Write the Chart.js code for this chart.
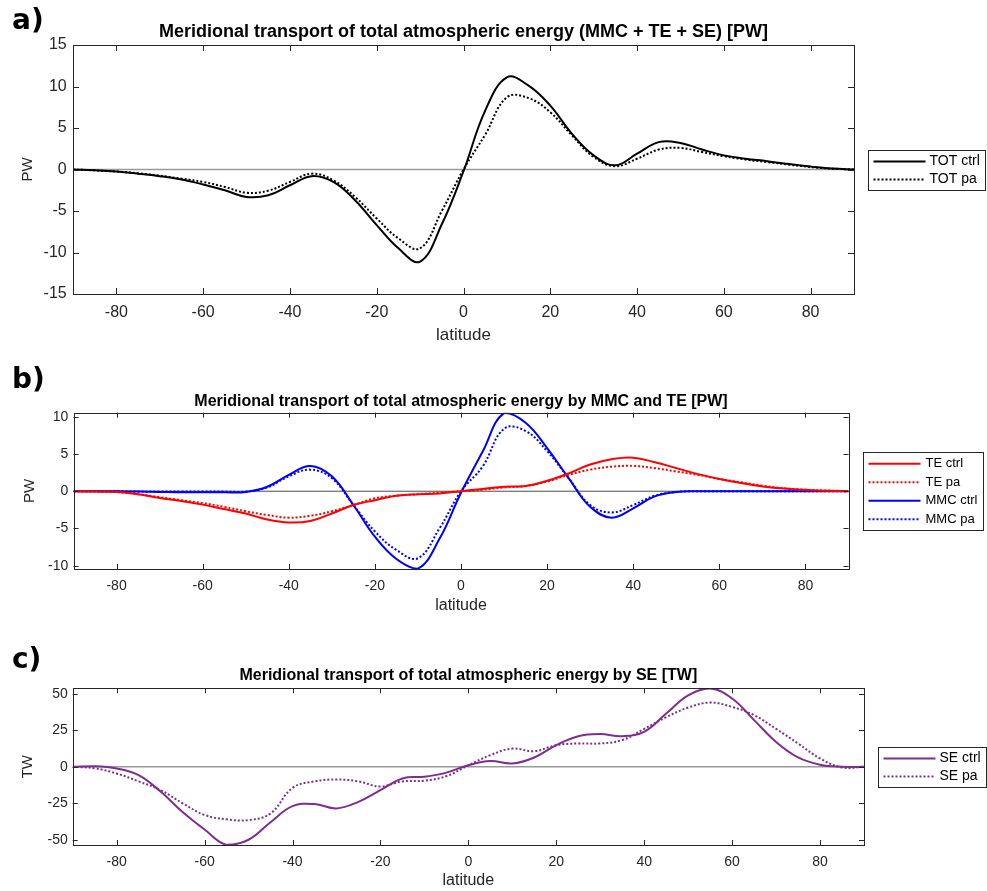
<!DOCTYPE html>
<html>
<head>
<meta charset="utf-8">
<script src="https://cdn.jsdelivr.net/npm/chart.js@4.4.0/dist/chart.umd.min.js"></script>
<style>
  body { margin: 0; background: #fff; }
  #page { position: relative; width: 987px; height: 891px; overflow: hidden; background: #fff; }
  canvas { position: absolute; left: 0; }
  .tag { position: absolute; left: 12px; font: bold 28px "DejaVu Sans", sans-serif; line-height: 28px; color: #000; }
</style>
</head>
<body>
<div id="page">
  <canvas id="chartA" width="987" height="350" style="top:0"></canvas>
  <canvas id="chartB" width="987" height="270" style="top:350px"></canvas>
  <canvas id="chartC" width="987" height="271" style="top:620px"></canvas>
  <div class="tag" style="top:6px">a)</div>
  <div class="tag" style="top:365px">b)</div>
  <div class="tag" style="top:645px">c)</div>
</div>
<script>
// latitude grid (deg) and x tick labels
const lat = [-90, -85, -80, -75, -70, -65, -60, -55, -50, -45, -40, -35, -30, -25, -20, -15, -10, -5, 0,
             5, 10, 15, 20, 25, 30, 35, 40, 45, 50, 55, 60, 65, 70, 75, 80, 85, 90];
const latTicks = [-80, -60, -40, -20, 0, 20, 40, 60, 80];

// a) total transport [PW]
const totCtrl = [0, -0.1, -0.25, -0.5, -0.8, -1.2, -1.8, -2.5, -3.3, -3.1, -1.9, -0.8, -1.5, -3.7, -6.7, -9.5, -11.1, -6.6, -0.2,
                 7.1, 11.1, 10.1, 7.7, 4.3, 1.7, 0.5, 1.9, 3.3, 3.2, 2.4, 1.7, 1.3, 1.0, 0.65, 0.35, 0.12, 0];
const totPa = [0, -0.1, -0.25, -0.45, -0.75, -1.1, -1.5, -2.1, -2.8, -2.55, -1.5, -0.5, -1.3, -3.3, -5.9, -8.3, -9.5, -5.0, 0,
               4.2, 8.7, 8.6, 6.9, 4.1, 1.5, 0.4, 1.3, 2.4, 2.6, 2.1, 1.6, 1.2, 0.9, 0.6, 0.3, 0.1, 0];

// b) transient eddies and mean meridional circulation [PW]
const teCtrl = [0, -0.05, -0.1, -0.4, -0.9, -1.3, -1.8, -2.4, -3.0, -3.8, -4.2, -4.0, -3.0, -1.85, -1.2, -0.6, -0.4, -0.3, 0,
                0.3, 0.6, 0.7, 1.4, 2.4, 3.6, 4.3, 4.5, 3.9, 3.1, 2.3, 1.65, 1.1, 0.65, 0.35, 0.2, 0.05, 0];
const tePa = [0, -0.05, -0.1, -0.4, -0.8, -1.2, -1.6, -2.1, -2.7, -3.2, -3.55, -3.3, -2.7, -1.85, -0.95, -0.6, -0.4, -0.2, 0,
              0.2, 0.5, 0.7, 1.3, 2.2, 2.9, 3.3, 3.4, 3.1, 2.65, 2.2, 1.65, 1.2, 0.75, 0.4, 0.2, 0.1, 0];
const mmcCtrl = [0, 0, 0, -0.05, -0.1, -0.15, -0.15, -0.15, -0.1, 0.6, 2.2, 3.4, 2.0, -1.85, -6.1, -9.1, -10.4, -6.4, -0.2,
                 5.3, 10.5, 9.2, 5.8, 1.75, -2.1, -3.55, -2.3, -0.7, -0.1, 0, 0, 0, 0, 0, 0, 0, 0];
const mmcPa = [0, 0, 0, -0.05, -0.05, -0.05, -0.05, -0.05, -0.05, 0.5, 2.0, 2.9, 1.75, -1.85, -5.4, -7.9, -9.0, -5.0, 0,
               3.3, 8.4, 8.1, 5.4, 1.75, -1.85, -2.85, -1.85, -0.6, -0.1, 0, 0, 0, 0, 0, 0, 0, 0];

// c) stationary eddies [TW]
const seCtrl = [0, 0.4, -1.1, -5.7, -17, -31, -43, -53.5, -50, -38, -27, -25.5, -28.5, -24, -16, -8, -6.8, -4, 1.1,
                3.9, 2.3, 6.4, 14.8, 21, 22.4, 21, 24, 36.5, 49, 53.7, 46.8, 32, 17, 6.4, 1.4, 0, 0];
const sePa = [0, -1, -4.6, -10, -16, -25, -33, -36, -36.5, -32, -14.5, -10, -8.7, -10, -13.5, -10, -9.5, -6.4, 1,
              8, 12.5, 10.7, 14.8, 16, 16, 18.3, 26, 34, 40.6, 44, 41, 35.4, 26, 16, 5.7, -0.5, 0];

const ticksA = [-15, -10, -5, 0, 5, 10, 15];
const ticksB = [-10, -5, 0, 5, 10];
const ticksC = [-50, -25, 0, 25, 50];

const FONT = '"Liberation Sans", Arial, sans-serif';
const AXIS = '#262626';

function pts(vals) {
    return lat.map((x, i) => ({ x: x, y: vals[i] }));
}

function curve(label, vals, color, dotted) {
    return {
        label: label,
        data: pts(vals),
        borderColor: color,
        borderWidth: 2,
        borderDash: dotted ? [2, 2] : [],
        pointRadius: 0,
        tension: 0.4,
        fill: false
    };
}

// zero reference line, last dataset so it is drawn underneath
function zeroLine(color, width) {
    return {
        data: [{ x: lat[0], y: 0 }, { x: lat[lat.length - 1], y: 0 }],
        borderColor: color,
        borderWidth: width,
        pointRadius: 0
    };
}

// matlab style box with inward ticks
const axesBox = {
    id: 'axesBox',
    afterDatasetsDraw(chart, args, opts) {
        const { ctx, chartArea: a, scales } = chart;
        const len = opts.tickLen;
        ctx.save();
        ctx.strokeStyle = AXIS;
        ctx.lineWidth = 1;
        ctx.beginPath();
        scales.x.ticks.forEach(t => {
            const px = Math.round(scales.x.getPixelForValue(t.value)) + 0.5;
            ctx.moveTo(px, a.bottom); ctx.lineTo(px, a.bottom - len);
            ctx.moveTo(px, a.top); ctx.lineTo(px, a.top + len);
        });
        scales.y.ticks.forEach(t => {
            const py = Math.round(scales.y.getPixelForValue(t.value)) + 0.5;
            ctx.moveTo(a.left, py); ctx.lineTo(a.left + len, py);
            ctx.moveTo(a.right, py); ctx.lineTo(a.right - len, py);
        });
        ctx.stroke();
        ctx.strokeRect(Math.round(a.left) + 0.5, Math.round(a.top) + 0.5,
                       Math.round(a.right - a.left), Math.round(a.bottom - a.top));
        ctx.restore();
    }
};

// boxed legend to the right of the plot
const boxLegend = {
    id: 'boxLegend',
    afterDraw(chart, args, o) {
        const { ctx, chartArea: a } = chart;
        const items = chart.data.datasets.filter(d => d.label);
        ctx.save();
        ctx.font = o.fontSize + 'px ' + FONT;
        const textW = Math.max(...items.map(d => ctx.measureText(d.label).width));
        const w = Math.round(o.textX + textW + 6);
        const h = Math.round(items.length * o.rowH + 4);
        const x = Math.round(a.right + o.gap) + 0.5;
        const y = Math.round((a.top + a.bottom) / 2 - h / 2) + 0.5;
        ctx.fillStyle = '#fff';
        ctx.fillRect(x, y, w, h);
        ctx.strokeStyle = AXIS;
        ctx.lineWidth = 1;
        ctx.strokeRect(x, y, w, h);
        items.forEach((d, i) => {
            const cy = y + 2 + o.rowH * (i + 0.5);
            ctx.strokeStyle = d.borderColor;
            ctx.lineWidth = d.borderWidth;
            ctx.setLineDash(d.borderDash);
            ctx.beginPath();
            ctx.moveTo(x + 5, cy);
            ctx.lineTo(x + 5 + o.lineLen, cy);
            ctx.stroke();
            ctx.setLineDash([]);
            ctx.fillStyle = '#000';
            ctx.textBaseline = 'middle';
            ctx.textAlign = 'left';
            ctx.fillText(d.label, x + o.textX, cy);
        });
        ctx.restore();
    }
};

function makePanel(id, p) {
    return new Chart(document.getElementById(id), {
        type: 'line',
        data: { datasets: p.datasets },
        options: {
            responsive: false,
            animation: false,
            events: [],
            layout: { padding: { top: 0, right: p.padRight, bottom: 0, left: 0 } },
            plugins: {
                legend: { display: false },
                tooltip: { enabled: false },
                title: {
                    display: true,
                    text: p.title,
                    fullSize: false,
                    color: '#000',
                    font: { family: FONT, size: p.titleSize, weight: 'bold' },
                    padding: p.titlePad
                },
                axesBox: { tickLen: p.tickLen },
                boxLegend: p.legend
            },
            scales: {
                x: {
                    type: 'linear',
                    min: -90,
                    max: 90,
                    afterBuildTicks: s => { s.ticks = latTicks.map(v => ({ value: v })); },
                    afterFit: s => { s.height = p.xHeight; },
                    grid: { display: false, drawTicks: false },
                    border: { display: false },
                    ticks: { autoSkip: false, maxRotation: 0, padding: p.xTickPad, color: AXIS,
                             font: { family: FONT, size: p.tickSize } },
                    title: { display: true, text: 'latitude', color: AXIS,
                             font: { family: FONT, size: p.xTitleSize }, padding: { top: 0, bottom: p.xTitlePad } }
                },
                y: {
                    type: 'linear',
                    min: p.yMin,
                    max: p.yMax,
                    afterBuildTicks: s => { s.ticks = p.yTicks.map(v => ({ value: v })); },
                    afterFit: s => { s.width = p.yWidth; },
                    grid: { display: false, drawTicks: false },
                    border: { display: false },
                    ticks: { autoSkip: false, padding: p.yTickPad, color: AXIS,
                             font: { family: FONT, size: p.tickSize } },
                    title: { display: true, text: p.yLabel, color: AXIS,
                             font: { family: FONT, size: 15 }, padding: { top: p.yTitlePad, bottom: 0 } }
                }
            }
        },
        plugins: [axesBox, boxLegend]
    });
}

makePanel('chartA', {
    title: 'Meridional transport of total atmospheric energy (MMC + TE + SE) [PW]',
    datasets: [
        curve('TOT ctrl', totCtrl, '#000000', false),
        curve('TOT pa', totPa, '#000000', true),
        zeroLine('#9a9a9a', 1.5)
    ],
    yTicks: ticksA, yMin: -15, yMax: 15, yLabel: 'PW',
    padRight: 133, titleSize: 18, titlePad: { top: 21, bottom: 2.4 },
    xHeight: 56, xTickPad: 8.9, tickSize: 16, xTitleSize: 17, xTitlePad: 4.8,
    yWidth: 73, yTickPad: 6.3, yTitlePad: 18.5, tickLen: 6,
    legend: { gap: 14, fontSize: 14, rowH: 18, lineLen: 52, textX: 61 }
});

makePanel('chartB', {
    title: 'Meridional transport of total atmospheric energy by MMC and TE [PW]',
    datasets: [
        curve('TE ctrl', teCtrl, '#ff0000', false),
        curve('TE pa', tePa, '#ff0000', true),
        curve('MMC ctrl', mmcCtrl, '#0000ff', false),
        curve('MMC pa', mmcPa, '#0000ff', true),
        zeroLine('#4d4d4d', 1)
    ],
    yTicks: ticksB, yMin: -10.45, yMax: 10.55, yLabel: 'PW',
    padRight: 138.5, titleSize: 16, titlePad: { top: 41.5, bottom: 2 },
    xHeight: 51, xTickPad: 8.4, tickSize: 14, xTitleSize: 16, xTitlePad: 4.9,
    yWidth: 73.5, yTickPad: 5.2, yTitlePad: 21, tickLen: 5,
    legend: { gap: 14.5, fontSize: 13, rowH: 18.5, lineLen: 52, textX: 62 }
});

makePanel('chartC', {
    title: 'Meridional transport of total atmospheric energy by SE [TW]',
    datasets: [
        curve('SE ctrl', seCtrl, '#7e2f8e', false),
        curve('SE pa', sePa, '#7e2f8e', true),
        zeroLine('#9a9a9a', 1.5)
    ],
    yTicks: ticksC, yMin: -53.6, yMax: 53.8, yLabel: 'TW',
    padRight: 123, titleSize: 16, titlePad: { top: 46.2, bottom: 2.9 },
    xHeight: 46, xTickPad: 8.6, tickSize: 14, xTitleSize: 16, xTitlePad: 0.6,
    yWidth: 72.7, yTickPad: 5, yTitlePad: 18.5, tickLen: 5,
    legend: { gap: 13.7, fontSize: 14, rowH: 18, lineLen: 52, textX: 61 }
});
</script>
</body>
</html>
